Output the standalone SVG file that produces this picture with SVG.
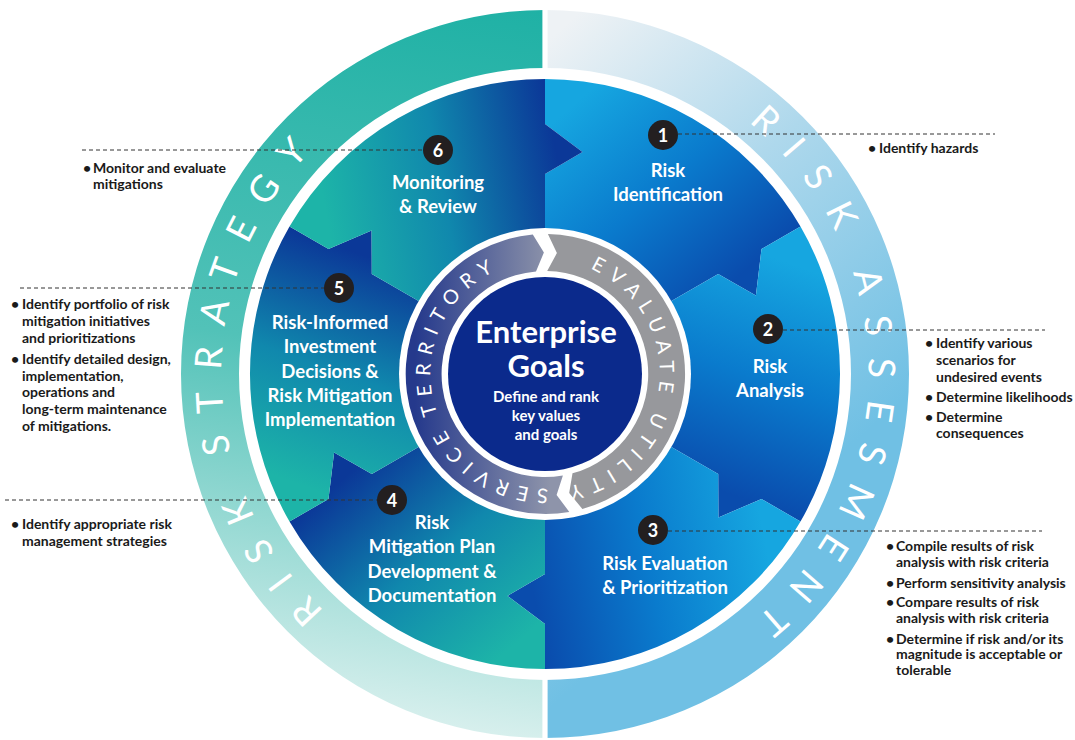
<svg xmlns="http://www.w3.org/2000/svg" width="1075" height="740" viewBox="0 0 1075 740">
<defs>
<style>
.lbl{font-family:Lato,"Open Sans","Liberation Sans",sans-serif;font-weight:bold;font-size:18.5px;fill:#ffffff;text-anchor:middle}
.num{font-family:Lato,"Liberation Sans",sans-serif;font-weight:bold;font-size:18px;fill:#ffffff;text-anchor:middle}
.badge{fill:#231f20}
.note{font-family:Lato,"Liberation Sans",sans-serif;font-weight:bold;font-size:14px;fill:#1a1a1a}
.ringtxt{font-family:Lato,"Liberation Sans",sans-serif;font-size:37px;fill:#ffffff;letter-spacing:21px}
.arrtxt{font-family:Lato,"Liberation Sans",sans-serif;font-size:20px;fill:#ffffff;letter-spacing:7.7px}
.lead{stroke:#333333;stroke-width:1;stroke-dasharray:4 3;fill:none}
.core{font-family:Lato,"Liberation Sans",sans-serif;font-weight:bold;fill:#ffffff;text-anchor:middle}
</style>
<linearGradient id="gOuterL" x1="545" y1="10" x2="430" y2="738" gradientUnits="userSpaceOnUse">
<stop offset="0" stop-color="#1fb1a5"/><stop offset="0.5" stop-color="#52c2b8"/><stop offset="1" stop-color="#dcf1ef"/>
</linearGradient>
<linearGradient id="gOuterR" x1="548" y1="40" x2="880" y2="420" gradientUnits="userSpaceOnUse">
<stop offset="0" stop-color="#eef2f5"/><stop offset="0.45" stop-color="#aed8ec"/><stop offset="1" stop-color="#70c0e4"/>
</linearGradient>
<linearGradient id="gS1" x1="585" y1="95" x2="740" y2="275" gradientUnits="userSpaceOnUse">
<stop offset="0" stop-color="#16a6e0"/><stop offset="0.5" stop-color="#0a7bcd"/><stop offset="1" stop-color="#0a4cad"/>
</linearGradient>
<linearGradient id="gS2" x1="585" y1="95" x2="740" y2="275" gradientUnits="userSpaceOnUse" gradientTransform="rotate(60 545 374)">
<stop offset="0" stop-color="#16a6e0"/><stop offset="0.5" stop-color="#0a7bcd"/><stop offset="1" stop-color="#0a4cad"/>
</linearGradient>
<linearGradient id="gS3" x1="585" y1="95" x2="740" y2="275" gradientUnits="userSpaceOnUse" gradientTransform="rotate(120 545 374)">
<stop offset="0" stop-color="#16a6e0"/><stop offset="0.5" stop-color="#0a7bcd"/><stop offset="1" stop-color="#0a4cad"/>
</linearGradient>
<linearGradient id="gS4" x1="585" y1="95" x2="740" y2="275" gradientUnits="userSpaceOnUse" gradientTransform="rotate(180 545 374)">
<stop offset="0" stop-color="#1db4a8"/><stop offset="0.5" stop-color="#1088ad"/><stop offset="1" stop-color="#0b3898"/>
</linearGradient>
<linearGradient id="gS5" x1="585" y1="95" x2="740" y2="275" gradientUnits="userSpaceOnUse" gradientTransform="rotate(240 545 374)">
<stop offset="0" stop-color="#1db4a8"/><stop offset="0.5" stop-color="#1088ad"/><stop offset="1" stop-color="#0b3898"/>
</linearGradient>
<linearGradient id="gS6" x1="585" y1="95" x2="740" y2="275" gradientUnits="userSpaceOnUse" gradientTransform="rotate(300 545 374)">
<stop offset="0" stop-color="#1db4a8"/><stop offset="0.5" stop-color="#1088ad"/><stop offset="1" stop-color="#0b3898"/>
</linearGradient>
<linearGradient id="gArrL" x1="415" y1="0" x2="550" y2="0" gradientUnits="userSpaceOnUse">
<stop offset="0" stop-color="#25398c"/><stop offset="1" stop-color="#8e94aa"/>
</linearGradient>
<path id="pRA" d="M 748.2,122.3 A 323.5 323.5 0 0 1 601.2,692.6"/>
<path id="pRS" d="M 324.4,610.6 A 323.5 323.5 0 0 1 434.4,70.0"/>
<path id="pEU" d="M 590.3,268.8 A 114.5 114.5 0 0 1 525.1,486.8"/>
<path id="pST" d="M 548.2,488.5 A 114.5 114.5 0 0 1 515.4,263.4"/>
</defs>
<rect width="1075" height="740" fill="#ffffff"/>

<g id="outer-ring">
<path d="M 545,10 A 364 364 0 0 0 545,738 L 545,680 A 306 306 0 0 1 545,68 Z" fill="url(#gOuterL)"/>
<path d="M 545,10 A 364 364 0 0 1 545,738 L 545,680 A 306 306 0 0 0 545,68 Z" fill="url(#gOuterR)"/>
<rect x="542.4" y="4" width="5.2" height="70" fill="#ffffff"/>
<rect x="542.4" y="672" width="5.2" height="70" fill="#ffffff"/>
<text class="ringtxt"><textPath href="#pRS">RISK</textPath></text>
<text class="ringtxt" style="letter-spacing:20.5px"><textPath href="#pRS" startOffset="186">STRATEGY</textPath></text>
<text class="ringtxt"><textPath href="#pRA">RISK</textPath></text>
<text class="ringtxt"><textPath href="#pRA" startOffset="185">ASSESMENT</textPath></text>
</g>

<g id="sector-1">
<path d="M 545,234 L 545,174 L 582.5,152.1 L 545,124 L 545,79 A 295 295 0 0 1 800.5,226.5 L 761.5,249 L 755.9,295.6 L 718.2,274 L 666.2,304 A 140 140 0 0 0 545,234 Z" fill="url(#gS1)"/>
<circle class="badge" cx="663" cy="135" r="15"/>
<text class="num" x="663" y="141.5">1</text>
<text class="lbl" x="668" y="177">Risk</text>
<text class="lbl" x="668" y="201">Identification</text>
</g>
<g id="sector-2">
<path d="M 666.2,304 L 718.2,274 L 755.9,295.6 L 761.5,249 L 800.5,226.5 A 295 295 0 0 1 800.5,521.5 L 761.5,499 L 718.4,517.4 L 718.2,474 L 666.2,444 A 140 140 0 0 0 666.2,304 Z" fill="url(#gS2)"/>
<circle class="badge" cx="768" cy="329" r="15"/>
<text class="num" x="768" y="335.5">2</text>
<text class="lbl" x="770" y="373">Risk</text>
<text class="lbl" x="770" y="397">Analysis</text>
</g>
<g id="sector-3">
<path d="M 666.2,444 L 718.2,474 L 718.4,517.4 L 761.5,499 L 800.5,521.5 A 295 295 0 0 1 545,669 L 545,624 L 507.5,595.9 L 545,574 L 545,514 A 140 140 0 0 0 666.2,444 Z" fill="url(#gS3)"/>
<circle class="badge" cx="653" cy="530" r="15"/>
<text class="num" x="653" y="536.5">3</text>
<text class="lbl" x="665" y="570">Risk Evaluation</text>
<text class="lbl" x="665" y="594">&amp; Prioritization</text>
</g>
<g id="sector-4">
<path d="M 545,514 L 545,574 L 507.5,595.9 L 545,624 L 545,669 A 295 295 0 0 1 289.5,521.5 L 328.5,499 L 334.1,452.4 L 371.8,474 L 423.8,444 A 140 140 0 0 0 545,514 Z" fill="url(#gS4)"/>
<circle class="badge" cx="392" cy="500" r="15"/>
<text class="num" x="392" y="506.5">4</text>
<text class="lbl" x="432" y="529">Risk</text>
<text class="lbl" x="432" y="553">Mitigation Plan</text>
<text class="lbl" x="432" y="578">Development &amp;</text>
<text class="lbl" x="432" y="602">Documentation</text>
</g>
<g id="sector-5">
<path d="M 423.8,444 L 371.8,474 L 334.1,452.4 L 328.5,499 L 289.5,521.5 A 295 295 0 0 1 289.5,226.5 L 328.5,249 L 371.6,230.6 L 371.8,274 L 423.8,304 A 140 140 0 0 0 423.8,444 Z" fill="url(#gS5)"/>
<circle class="badge" cx="339" cy="288" r="15"/>
<text class="num" x="339" y="294.5">5</text>
<text class="lbl" x="330" y="329">Risk-Informed</text>
<text class="lbl" x="330" y="353">Investment</text>
<text class="lbl" x="330" y="378">Decisions &amp;</text>
<text class="lbl" x="330" y="402">Risk Mitigation</text>
<text class="lbl" x="330" y="426">Implementation</text>
</g>
<g id="sector-6">
<path d="M 423.8,304 L 371.8,274 L 371.6,230.6 L 328.5,249 L 289.5,226.5 A 295 295 0 0 1 545,79 L 545,124 L 582.5,152.1 L 545,174 L 545,234 A 140 140 0 0 0 423.8,304 Z" fill="url(#gS6)"/>
<circle class="badge" cx="438" cy="150" r="15"/>
<text class="num" x="438" y="156.5">6</text>
<text class="lbl" x="438" y="189">Monitoring</text>
<text class="lbl" x="438" y="213">&amp; Review</text>
</g>

<g id="core">
<circle cx="545" cy="374" r="146" fill="#ffffff"/>
<path d="M 569.3,511.9 A 140 140 0 1 1 532.8,234.5 L 543.9,252.5 L 536.0,271.4 A 103 103 0 1 0 562.9,475.4 L 556.6,494.9 Z" fill="url(#gArrL)"/>
<path d="M 547.9,234.0 A 140 140 0 0 1 582.4,508.9 L 569.2,493.1 L 572.5,473.3 A 103 103 0 0 0 547.2,271.0 L 556.9,253.1 Z" fill="#97989c"/>
<text class="arrtxt"><textPath href="#pEU">EVALUATE</textPath></text>
<text class="arrtxt"><textPath href="#pEU" startOffset="171">UTILITY</textPath></text>
<text class="arrtxt"><textPath href="#pST">SERVICE</textPath></text>
<text class="arrtxt"><textPath href="#pST" startOffset="142">TERRITORY</textPath></text>
<circle cx="545" cy="374" r="97" fill="#0b2a8c"/>
<text class="core" x="546" y="343" font-size="31">Enterprise</text>
<text class="core" x="546" y="377" font-size="31">Goals</text>
<text class="core" x="546" y="402" font-size="15">Define and rank</text>
<text class="core" x="546" y="421" font-size="15">key values</text>
<text class="core" x="546" y="440" font-size="15">and goals</text>
</g>

<g id="connectors">
<line class="lead" x1="678" y1="134" x2="995" y2="134"/>
<line class="lead" x1="82" y1="150" x2="423" y2="150"/>
<line class="lead" x1="20" y1="288" x2="324" y2="288"/>
<line class="lead" x1="783" y1="330" x2="1045" y2="330"/>
<line class="lead" x1="5" y1="500" x2="377" y2="500"/>
<line class="lead" x1="668" y1="531" x2="1042" y2="531"/>
</g>

<g id="notes-1">
<text class="note" x="868" y="153">•<tspan x="879">Identify hazards</tspan></text>
</g>
<g id="notes-2">
<text class="note" x="925" y="348">•<tspan x="936">Identify various</tspan></text>
<text class="note" x="936" y="365">scenarios for</text>
<text class="note" x="936" y="382">undesired events</text>
<text class="note" x="925" y="402">•<tspan x="936">Determine likelihoods</tspan></text>
<text class="note" x="925" y="422">•<tspan x="936">Determine</tspan></text>
<text class="note" x="936" y="438">consequences</text>
</g>
<g id="notes-3">
<text class="note" x="886" y="551">•<tspan x="896">Compile results of risk</tspan></text>
<text class="note" x="896" y="567">analysis with risk criteria</text>
<text class="note" x="886" y="588">•<tspan x="896">Perform sensitivity  analysis</tspan></text>
<text class="note" x="886" y="607">•<tspan x="896">Compare results of risk</tspan></text>
<text class="note" x="896" y="623">analysis with risk criteria</text>
<text class="note" x="886" y="644">•<tspan x="896">Determine if risk and/or its</tspan></text>
<text class="note" x="896" y="659">magnitude is acceptable or</text>
<text class="note" x="896" y="675">tolerable</text>
</g>
<g id="notes-6">
<text class="note" x="83" y="173">•<tspan x="93">Monitor and evaluate</tspan></text>
<text class="note" x="93" y="189">mitigations</text>
</g>
<g id="notes-5">
<text class="note" x="11" y="309">•<tspan x="22">Identify portfolio of risk</tspan></text>
<text class="note" x="22" y="326">mitigation initiatives</text>
<text class="note" x="22" y="343">and prioritizations</text>
<text class="note" x="11" y="364">•<tspan x="22">Identify detailed design,</tspan></text>
<text class="note" x="22" y="381">implementation,</text>
<text class="note" x="22" y="397">operations and</text>
<text class="note" x="22" y="414">long-term maintenance</text>
<text class="note" x="22" y="431">of mitigations.</text>
</g>
<g id="notes-4">
<text class="note" x="11" y="529">•<tspan x="22">Identify appropriate risk</tspan></text>
<text class="note" x="22" y="546">management strategies</text>
</g>
</svg>
